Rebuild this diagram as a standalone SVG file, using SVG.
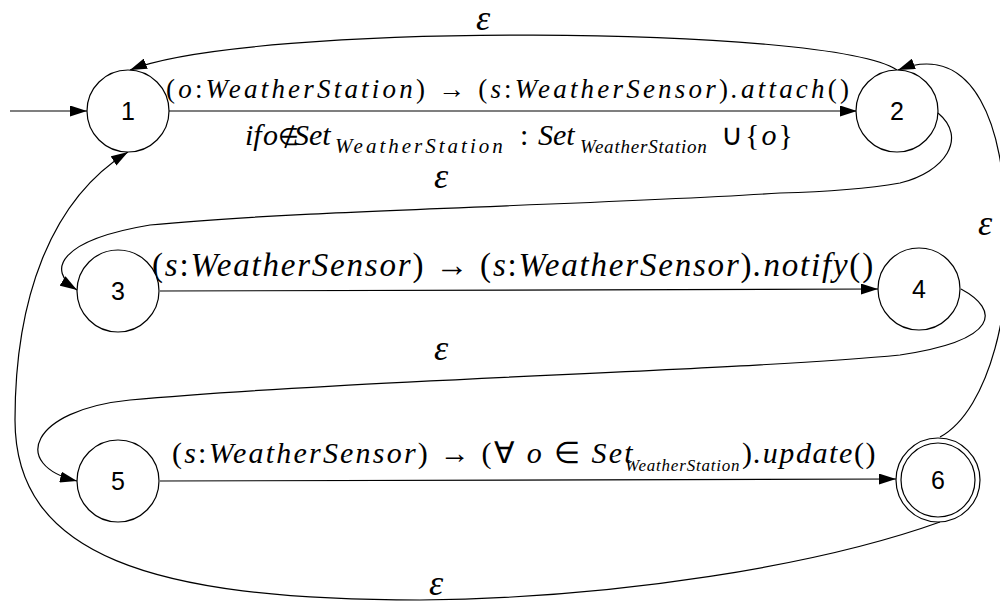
<svg xmlns="http://www.w3.org/2000/svg" width="1000" height="601" viewBox="0 0 1000 601">
<rect width="1000" height="601" fill="#fff"/>
<defs>
<marker id="arr" markerUnits="userSpaceOnUse" markerWidth="17" markerHeight="11" refX="17" refY="5.5" orient="auto">
<path d="M0,0 L17,5.5 L0,11 z" fill="#000"/>
</marker>
</defs>
<g id="connectors" fill="none" stroke="#000" stroke-width="1.2">
<path d="M10 111 L87 111" marker-end="url(#arr)"/>
<path d="M169 111 L857 111" marker-end="url(#arr)"/>
<path d="M897 70 C830 25 250 22 130 70" marker-end="url(#arr)"/>
<path d="M938 113 C968 138 945 172 900 183 C860 190 820 192 780 193 C600 205 300 210 150 225 C60 240 45 270 77 290" marker-end="url(#arr)"/>
<path d="M160 291 L878 289" marker-end="url(#arr)"/>
<path d="M961 289 C1000 310 1000 340 900 355 C750 370 350 380 130 400 C30 410 10 465 77 481" marker-end="url(#arr)"/>
<path d="M160 481 L896 479" marker-end="url(#arr)"/>
<path d="M940 437 C990 410 1015 300 1005 220 C1005 130 975 40 898 70" marker-end="url(#arr)"/>
<path d="M940 522 C820 565 620 598 420 600 C150 600 15 555 15 420 C15 300 50 200 128 152" marker-end="url(#arr)"/>
</g>
<text x="166" y="98" font-family="Liberation Serif" font-style="italic" font-size="27" letter-spacing="3.2"><tspan font-style="normal">(</tspan>o<tspan font-style="normal">:</tspan>WeatherStation<tspan font-style="normal">) → (</tspan>s<tspan font-style="normal">:</tspan>WeatherSensor<tspan font-style="normal">)</tspan>.attach<tspan font-style="normal">()</tspan></text>
<text x="245" y="145" font-family="Liberation Serif" font-style="italic" font-size="30">if</text>
<text x="263" y="145" font-family="Liberation Serif" font-style="italic" font-size="30">o</text>
<text x="278" y="145" font-family="Liberation Serif" font-size="24">∉</text>
<text x="294" y="145" font-family="Liberation Serif" font-style="italic" font-size="30">Set</text>
<text x="335" y="153" font-family="Liberation Serif" font-style="italic" font-size="21" letter-spacing="3">WeatherStation</text>
<text x="520" y="145" font-family="Liberation Serif" font-size="30">:</text>
<text x="538" y="145" font-family="Liberation Serif" font-style="italic" font-size="30">Set</text>
<text x="580" y="153" font-family="Liberation Serif" font-style="italic" font-size="19" letter-spacing="0.8">WeatherStation</text>
<text x="721" y="145" font-family="Liberation Serif" font-size="30" letter-spacing="2">∪{<tspan font-style="italic">o</tspan>}</text>
<text x="152" y="276" font-family="Liberation Serif" font-style="italic" font-size="33" letter-spacing="1.8"><tspan font-style="normal">(</tspan>s<tspan font-style="normal">:</tspan>WeatherSensor<tspan font-style="normal">) → (</tspan>s<tspan font-style="normal">:</tspan>WeatherSensor<tspan font-style="normal">)</tspan>.notify<tspan font-style="normal">()</tspan></text>
<text x="172" y="463" font-family="Liberation Serif" font-style="italic" font-size="30" letter-spacing="2.2"><tspan font-style="normal">(</tspan>s<tspan font-style="normal">:</tspan>WeatherSensor<tspan font-style="normal">) → (∀ </tspan>o<tspan font-style="normal"> ∈ </tspan>Set</text>
<text x="625" y="471" font-family="Liberation Serif" font-style="italic" font-size="17" letter-spacing="0.8">WeatherStation</text>
<text x="742" y="463" font-family="Liberation Serif" font-style="italic" font-size="30" letter-spacing="1.6"><tspan font-style="normal">)</tspan>.update<tspan font-style="normal">()</tspan></text>
<text x="483" y="30" font-family="Liberation Serif" font-style="italic" font-size="36" text-anchor="middle">ε</text>
<text x="441" y="188" font-family="Liberation Serif" font-style="italic" font-size="36" text-anchor="middle">ε</text>
<text x="441" y="360" font-family="Liberation Serif" font-style="italic" font-size="36" text-anchor="middle">ε</text>
<text x="436" y="595" font-family="Liberation Serif" font-style="italic" font-size="36" text-anchor="middle">ε</text>
<text x="985" y="235" font-family="Liberation Serif" font-style="italic" font-size="36" text-anchor="middle">ε</text>
<g id="node1"><circle cx="128" cy="111" r="41" fill="#fff" stroke="#000" stroke-width="1.2"/><text x="128" y="120" font-family="Liberation Sans" font-size="25" text-anchor="middle">1</text></g>
<g id="node2"><circle cx="897" cy="111" r="41" fill="#fff" stroke="#000" stroke-width="1.2"/><text x="897" y="120" font-family="Liberation Sans" font-size="25" text-anchor="middle">2</text></g>
<g id="node3"><circle cx="118" cy="291" r="41" fill="#fff" stroke="#000" stroke-width="1.2"/><text x="118" y="300" font-family="Liberation Sans" font-size="25" text-anchor="middle">3</text></g>
<g id="node4"><circle cx="919" cy="289" r="41" fill="#fff" stroke="#000" stroke-width="1.2"/><text x="919" y="298" font-family="Liberation Sans" font-size="25" text-anchor="middle">4</text></g>
<g id="node5"><circle cx="118" cy="481" r="41" fill="#fff" stroke="#000" stroke-width="1.2"/><text x="118" y="490" font-family="Liberation Sans" font-size="25" text-anchor="middle">5</text></g>
<g id="node6"><circle cx="938" cy="480" r="42" fill="#fff" stroke="#000" stroke-width="1.2"/><circle cx="938" cy="480" r="37" fill="#fff" stroke="#000" stroke-width="1.2"/><text x="938" y="489" font-family="Liberation Sans" font-size="25" text-anchor="middle">6</text></g>
</svg>
